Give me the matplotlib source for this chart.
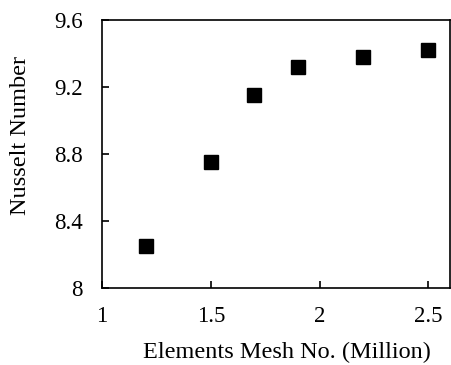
import matplotlib.pyplot as plt

mesh = [1.2, 1.5, 1.7, 1.9, 2.2, 2.5]
nusselt = [8.25, 8.75, 9.15, 9.32, 9.38, 9.42]
xticks = [1, 1.5, 2, 2.5]
yticks = [8, 8.4, 8.8, 9.2, 9.6]

plt.rcParams['font.family'] = ['Liberation Serif', 'DejaVu Serif']

fig = plt.figure(figsize=(4.52, 3.65), dpi=100)
ax = fig.add_axes([0.2257, 0.211, 0.77, 0.734])
ax.plot(mesh, nusselt, 's', color='black', markersize=10.5)

ax.set_xlim(1, 2.6)
ax.set_ylim(8, 9.6)
ax.set_xticks(xticks)
ax.set_xticklabels(['1', '1.5', '2', '2.5'])
ax.set_yticks(yticks)
ax.set_yticklabels(['8', '8.4', '8.8', '9.2', '9.6'])
ax.tick_params(direction='in', length=5, width=1.2, labelsize=16.5)
ax.tick_params(axis='y', pad=14)
ax.tick_params(axis='x', pad=13)
for s in ax.spines.values():
    s.set_linewidth(1.2)

ax.set_xlabel('Elements Mesh No. (Million)', fontsize=17.5)
ax.set_ylabel('Nusselt Number', fontsize=17.5)
# labels sit a bit off-centre in the original
ax.xaxis.set_label_coords(0.532, -0.2)
ax.yaxis.set_label_coords(-0.205, 0.571)

fig.savefig('out.png', dpi=100)
